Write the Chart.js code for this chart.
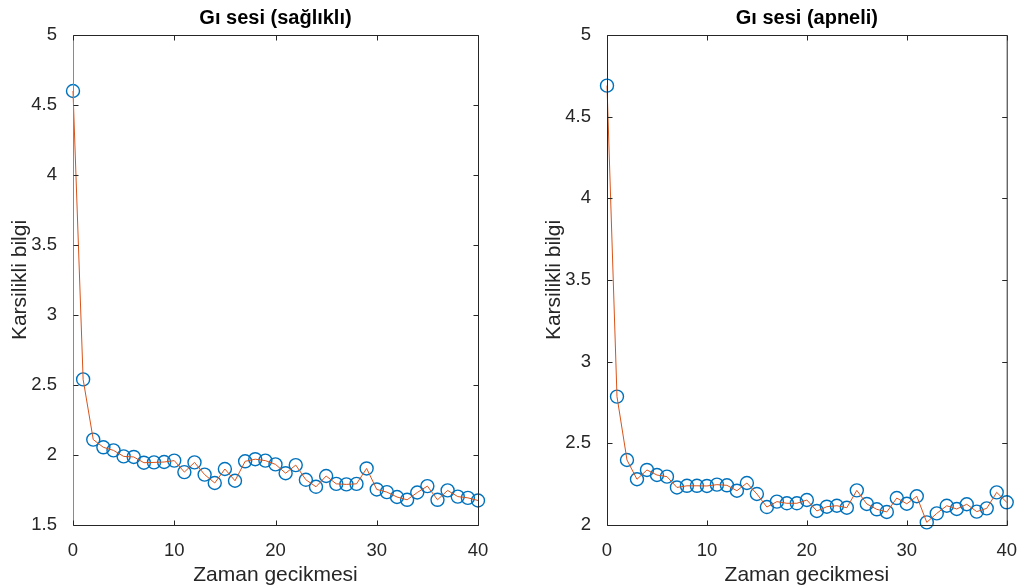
<!DOCTYPE html>
<html>
<head>
    <title>Gı sesi</title>
    <script src="https://cdn.jsdelivr.net/npm/chart.js"></script>
    <style>
        body {
            margin: 0;
            background: #fff;
        }
        .panel {
            position: absolute;
            top: 0;
        }
    </style>
</head>
<body>
    <canvas id="leftChart" class="panel" style="left:0" width="512" height="588"></canvas>
    <canvas id="rightChart" class="panel" style="left:512px" width="512" height="588"></canvas>

    <script>
// zaman gecikmesi (lag)
const lags = [0, 1, 2, 3, 4, 5, 6, 7, 8, 9, 10, 11, 12, 13, 14, 15, 16, 17, 18, 19, 20,
    21, 22, 23, 24, 25, 26, 27, 28, 29, 30, 31, 32, 33, 34, 35, 36, 37, 38, 39, 40];

const healthy = [4.60, 2.54, 2.11, 2.055, 2.033, 1.99, 1.986, 1.945, 1.947, 1.95, 1.96,
    1.878, 1.947, 1.86, 1.80, 1.90, 1.816, 1.955, 1.97, 1.96, 1.933,
    1.87, 1.928, 1.823, 1.773, 1.85, 1.794, 1.79, 1.794, 1.904, 1.754,
    1.735, 1.70, 1.68, 1.732, 1.778, 1.68, 1.747, 1.703, 1.694, 1.675];

const apnea = [4.69, 2.786, 2.398, 2.28, 2.337, 2.306, 2.296, 2.23, 2.24, 2.24, 2.239,
    2.247, 2.243, 2.21, 2.257, 2.19, 2.11, 2.143, 2.133, 2.133, 2.153,
    2.086, 2.112, 2.118, 2.106, 2.212, 2.129, 2.096, 2.08, 2.165, 2.13,
    2.176, 2.016, 2.071, 2.118, 2.098, 2.127, 2.082, 2.102, 2.2, 2.139];

const xTicks = [0, 10, 20, 30, 40];
const yTicksLeft = [1.5, 2, 2.5, 3, 3.5, 4, 4.5, 5];
const yTicksRight = [2, 2.5, 3, 3.5, 4, 4.5, 5];

const FONT = "'Liberation Sans', Arial, sans-serif";
const AXIS_COLOR = '#262626';

// MATLAB style box with inward ticks
const boxPlugin = {
    id: 'box',
    afterDraw(chart, args, opts) {
        const {ctx, chartArea: a, scales} = chart;
        const len = 5;
        const l = a.left + 0.5, r = a.right + 0.5, t = a.top + 0.5, b = a.bottom + 0.5;
        ctx.save();
        ctx.lineWidth = 1;
        ctx.strokeStyle = AXIS_COLOR;
        ctx.beginPath();
        ctx.moveTo(l, b);
        ctx.lineTo(r, b);
        ctx.lineTo(r, t);
        ctx.lineTo(l, t);
        ctx.stroke();
        ctx.strokeStyle = opts.leftColor || AXIS_COLOR;
        ctx.beginPath();
        ctx.moveTo(l, t);
        ctx.lineTo(l, b);
        ctx.stroke();
        ctx.strokeStyle = AXIS_COLOR;
        ctx.beginPath();
        scales.x.ticks.forEach(tk => {
            const px = Math.round(scales.x.getPixelForValue(tk.value)) + 0.5;
            ctx.moveTo(px, b);
            ctx.lineTo(px, b - len);
            ctx.moveTo(px, t);
            ctx.lineTo(px, t + len);
        });
        scales.y.ticks.forEach(tk => {
            const py = Math.round(scales.y.getPixelForValue(tk.value)) + 0.5;
            ctx.moveTo(l, py);
            ctx.lineTo(l + len, py);
            ctx.moveTo(r, py);
            ctx.lineTo(r - len, py);
        });
        ctx.stroke();
        ctx.restore();
    }
};

function makeChart(canvasId, title, values, yTicks, yWidth, padRight, yTitlePad, leftColor) {
    const points = lags.map((x, i) => ({x: x, y: values[i]}));
    return new Chart(document.getElementById(canvasId), {
        type: 'scatter',
        data: {
            datasets: [{
                data: points,
                showLine: true,
                borderColor: '#D95319',
                borderWidth: 1,
                pointRadius: 0,
                pointHoverRadius: 0,
                clip: false,
                order: 0
            }, {
                data: points,
                showLine: false,
                borderColor: '#0072BD',
                backgroundColor: 'rgba(0,0,0,0)',
                borderWidth: 1.4,
                pointRadius: 6.5,
                clip: false,
                order: 1
            }]
        },
        options: {
            responsive: false,
            animation: false,
            events: [],
            layout: {
                padding: {left: 0, right: padRight, top: 0, bottom: 0}
            },
            plugins: {
                legend: {display: false},
                tooltip: {enabled: false},
                box: {leftColor: leftColor},
                title: {
                    display: true,
                    text: title,
                    fullSize: false,
                    color: '#000',
                    font: {family: FONT, size: 20, weight: 'bold'},
                    padding: {top: 6.5, bottom: 4.5}
                }
            },
            scales: {
                x: {
                    type: 'linear',
                    min: 0,
                    max: 40,
                    afterBuildTicks: s => { s.ticks = xTicks.map(v => ({value: v})); },
                    grid: {display: false},
                    border: {display: false},
                    ticks: {
                        color: AXIS_COLOR,
                        font: {family: FONT, size: 18.5},
                        padding: 7,
                        maxRotation: 0,
                        callback: v => String(v)
                    },
                    title: {
                        display: true,
                        text: 'Zaman gecikmesi',
                        color: AXIS_COLOR,
                        font: {family: FONT, size: 21},
                        padding: {top: 0, bottom: 0}
                    },
                    afterFit: s => { s.height = 63; }
                },
                y: {
                    type: 'linear',
                    min: yTicks[0],
                    max: yTicks[yTicks.length - 1],
                    afterBuildTicks: s => { s.ticks = yTicks.map(v => ({value: v})); },
                    grid: {display: false},
                    border: {display: false},
                    ticks: {
                        color: AXIS_COLOR,
                        font: {family: FONT, size: 18.5},
                        padding: 8,
                        callback: v => String(v)
                    },
                    title: {
                        display: true,
                        text: 'Karsilikli bilgi',
                        color: AXIS_COLOR,
                        font: {family: FONT, size: 21},
                        padding: {top: yTitlePad, bottom: 0}
                    },
                    afterFit: s => { s.width = yWidth; }
                }
            }
        },
        plugins: [boxPlugin]
    });
}

makeChart('leftChart', 'Gı sesi (sağlıklı)', healthy, yTicksLeft, 73, 34, 8, '#8a8a8a');
makeChart('rightChart', 'Gı sesi (apneli)', apnea, yTicksRight, 95, 12, 30, AXIS_COLOR);
</script>
</body>
</html>
